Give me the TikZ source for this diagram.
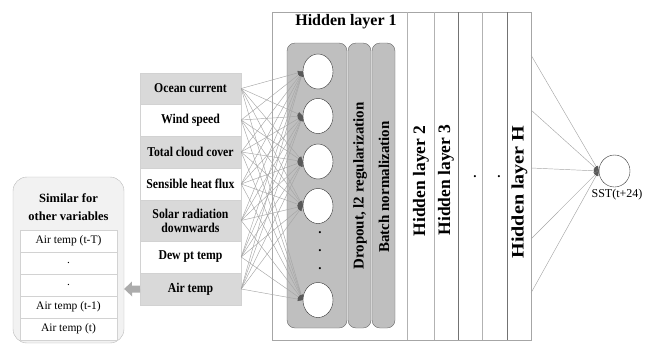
\documentclass[tikz,border=0pt]{standalone}
\usepackage{fontspec}
\setmainfont{Liberation Serif}
\newfontfamily\narrowserif[FakeStretch=0.87]{Liberation Serif}
\usepackage{graphicx}
\usetikzlibrary{arrows.meta,shapes.geometric}

\definecolor{rowgray}{HTML}{D9D9D9}
\definecolor{layergray}{HTML}{BFBFBF}
\definecolor{panel}{HTML}{F2F2F2}

\tikzset{
  inbox/.style={draw=gray!35, minimum width=101pt, inner sep=0pt, align=center,
    font=\narrowserif\bfseries\fontsize{13.5}{14}\selectfont},
  neuron/.style={draw=black!80, fill=white, ellipse, minimum width=30pt, minimum height=35pt, inner sep=0pt},
  conn/.style={draw=gray!70, line width=0.45pt, -{Triangle[length=5pt,width=4pt,color=black!65]}},
  layer/.style={draw=gray!80!black, fill=layergray, rounded corners=8pt, minimum height=285pt, inner sep=0pt},
  vlabel/.style={rotate=90, inner sep=0pt, font=\bfseries\fontsize{15}{16}\selectfont},
  hlabel/.style={rotate=90, inner sep=0pt, font=\bfseries\fontsize{17.5}{18}\selectfont},
  colline/.style={draw=gray!60, line width=0.6pt},
  tabrow/.style={draw=gray!35, fill=white, minimum width=97pt, minimum height=22pt, inner sep=0pt,
    font=\fontsize{11.5}{12}\selectfont},
  dotmark/.style={inner sep=0pt, font=\bfseries\fontsize{13}{13}\selectfont}
}

\begin{document}
\begin{tikzpicture}[x=1pt,y=-1pt]
\useasboundingbox (0,0) rectangle (656,346);

% ---- frame holding the hidden layers ----
\draw[draw=gray!70, line width=0.6pt] (272,12) rectangle (531,340);
\node[font=\bfseries\fontsize{16}{17}\selectfont] (title1) at (346,22) {Hidden layer 1};

% hidden layer 1 blocks
\node[layer, minimum width=60pt] (hl1) at (317,185.5) {};
\node[layer, minimum width=23pt] (drop) at (359.5,185.5) {};
\node[layer, minimum width=23pt] (bnorm) at (383.5,185.5) {};
\node[vlabel] (droplab) at (360,186) {Dropout, l2 regularization};
\node[vlabel] (bnlab) at (384,187) {Batch normalization};

% columns of the deeper layers
\draw[colline] (407,12) -- (407,340);
\draw[colline] (434,12) -- (434,340);
\draw[colline, draw=gray!90!black] (458,12) -- (458,340);
\draw[colline] (482,12) -- (482,340);
\draw[colline, draw=gray!90!black] (507,12) -- (507,340);
\node[hlabel] (hl2) at (421,181) {Hidden layer 2};
\node[hlabel] (hl3) at (446,180) {Hidden layer 3};
\node[dotmark] (cd1) at (475,177) {.};
\node[dotmark] (cd2) at (499,177) {.};
\node[hlabel] (hlH) at (519.5,192) {\scalebox{1.15}[1]{Hidden layer H}};

% neurons of hidden layer 1
\node[neuron] (n1) at (318,71.5) {};
\node[neuron] (n2) at (318,116) {};
\node[neuron] (n3) at (318,161.5) {};
\node[neuron] (n4) at (318,206) {};
\node[neuron] (n5) at (318,300) {};
\node[dotmark] (nd1) at (320,233) {.};
\node[dotmark] (nd2) at (320,251) {.};
\node[dotmark] (nd3) at (320,269) {.};

% ---- input variables ----
\node[inbox, fill=rowgray, minimum height=31pt] (in1) at (190.5,88.5) {Ocean current};
\node[inbox, fill=white, minimum height=32pt] (in2) at (190.5,120) {Wind speed};
\node[inbox, fill=rowgray, minimum height=32pt] (in3) at (190.5,152) {Total cloud cover};
\node[inbox, fill=white, minimum height=32pt] (in4) at (190.5,184) {Sensible heat flux};
\node[inbox, fill=rowgray, minimum height=41pt] (in5) at (190.5,220.5) {Solar radiation\\downwards};
\node[inbox, fill=white, minimum height=32pt] (in6) at (190.5,257) {Dew pt temp};
\node[inbox, fill=rowgray, minimum height=32pt] (in7) at (190.5,289) {Air temp};

% fully connected inputs -> hidden layer 1
\foreach \i in {in1,in2,in3,in4,in5,in6,in7}
  \foreach \j in {n1,n2,n3,n4,n5}
    \draw[conn] (\i.east) -- (\j.west);

% ---- output ----
\node[draw=black!80, fill=white, ellipse, minimum width=31pt, minimum height=32pt, inner sep=0pt] (out) at (614.5,171) {};
\node[font=\fontsize{12}{13}\selectfont] (outlab) at (617,195) {SST(t+24)};
\coordinate (o1) at (531,55);
\coordinate (o2) at (531,110);
\coordinate (o3) at (531,168);
\coordinate (o4) at (531,239);
\coordinate (o5) at (531,293);
\foreach \k in {o1,o2,o3,o4,o5}
  \draw[conn] (\k) -- (out.west);

% ---- lagged inputs panel ----
\node[draw=gray!55, fill=panel, rounded corners=14pt, minimum width=111pt, minimum height=166pt, inner sep=0pt] (panel) at (68.5,260) {};
\node[font=\bfseries\fontsize{12.5}{18}\selectfont, align=center] (ptitle) at (68.5,207) {Similar for\\other variables};
\node[tabrow] (r1) at (68.5,241) {Air temp (t-T)};
\node[tabrow] (r2) at (68.5,263) {.};
\node[tabrow] (r3) at (68.5,285) {.};
\node[tabrow] (r4) at (68.5,307) {Air temp (t-1)};
\node[tabrow] (r5) at (68.5,329) {Air temp (t)};

% block arrow from the air temperature row to the panel
\fill[gray!65] (in7.west) ++(0,-3.5) -- ++(-8,0) -- ++(0,-4) -- (panel.east |- in7.west) -- ++(8,7.5) -- ++(0,-4) -- ++(8,0) -- cycle;
\end{tikzpicture}
\end{document}
